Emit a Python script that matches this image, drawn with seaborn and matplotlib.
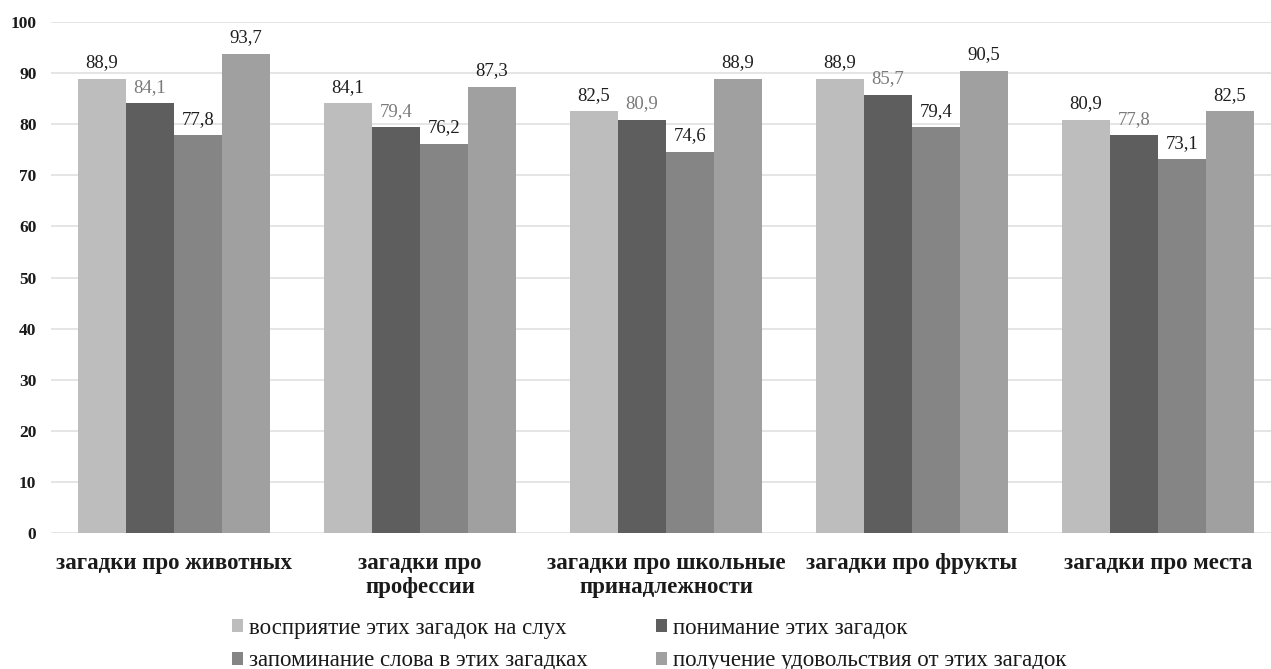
import matplotlib
matplotlib.use("Agg")
import matplotlib.pyplot as plt
import seaborn as sns
import pandas as pd

categories = [
    "загадки про животных",
    "загадки про\nпрофессии",
    "загадки про школьные\nпринадлежности",
    "загадки про фрукты",
    "загадки про места",
]
series_names = [
    "восприятие этих загадок на слух",
    "понимание этих загадок",
    "запоминание слова в этих загадках",
    "получение удовольствия от этих загадок",
]
s1 = [88.9, 84.1, 82.5, 88.9, 80.9]
s2 = [84.1, 79.4, 80.9, 85.7, 77.8]
s3 = [77.8, 76.2, 74.6, 79.4, 73.1]
s4 = [93.7, 87.3, 88.9, 90.5, 82.5]
series_values = [s1, s2, s3, s4]
colors = ["#bdbdbd", "#5e5e5e", "#858585", "#a0a0a0"]
label_colors = ["#1e1e1e", "#7a7a7a", "#1e1e1e", "#1e1e1e"]

rows = []
for name, vals in zip(series_names, series_values):
    for c, v in zip(categories, vals):
        rows.append({"cat": c, "series": name, "val": v})
df = pd.DataFrame(rows)

sns.set_style("white")
plt.rcParams["font.family"] = ["Liberation Serif", "DejaVu Serif"]

W, H = 1271, 669
fig = plt.figure(figsize=(W / 100, H / 100), dpi=100)
ax = fig.add_axes([51 / W, 1 - 533 / H, 1230 / W, (533 - 22) / H])

sns.barplot(data=df, x="cat", y="val", hue="series", order=categories,
            hue_order=series_names, palette=colors, width=0.78,
            saturation=1, edgecolor="none", linewidth=0, ax=ax, legend=True)

for cont, lc in zip(ax.containers, label_colors):
    labs = [f"{b.get_height():.1f}".replace(".", ",") for b in cont]
    ax.bar_label(cont, labels=labs, padding=5.5, fontsize=13.5, color=lc)

ax.set_ylim(0, 100)
ax.set_yticks(range(0, 101, 10))
ax.set_xlim(-0.5, len(categories) - 0.5)
ax.grid(axis="y", color="#e0e0e0", linewidth=1.2)
ax.set_axisbelow(True)
for sp in ax.spines.values():
    sp.set_visible(False)
ax.tick_params(axis="both", length=0)
ax.tick_params(axis="y", labelsize=12.5, pad=10.5, labelcolor="#1a1a1a")
ax.tick_params(axis="x", labelsize=16.5, pad=14.5, labelcolor="#1a1a1a")
for t in ax.get_xticklabels():
    t.set_fontweight("bold")
    t.set_linespacing(1.2)
for t in ax.get_yticklabels():
    t.set_fontweight("bold")
ax.set_xlabel("")
ax.set_ylabel("")

handles, labels = ax.get_legend_handles_labels()
ax.get_legend().remove()
order = [0, 2, 1, 3]
fig.legend([handles[i] for i in order], [labels[i] for i in order],
           loc="upper left", bbox_to_anchor=(232 / W, 1 - 618 / H), ncol=2,
           frameon=False, fontsize=16.5, handlelength=0.48, handleheight=0.48,
           handletextpad=0.26, columnspacing=3.0, labelspacing=0.5,
           borderpad=0, borderaxespad=0, labelcolor="#1a1a1a")

fig.savefig("out.png", dpi=100)
